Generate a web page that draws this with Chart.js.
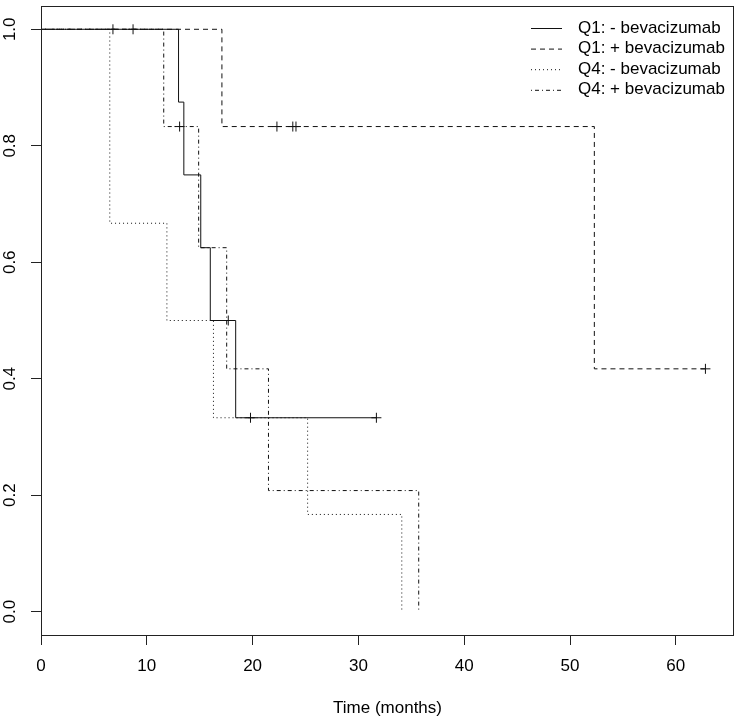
<!DOCTYPE html>
<html>
<head>
<meta charset="utf-8">
<script src="https://cdn.jsdelivr.net/npm/chart.js@4.4.1/dist/chart.umd.min.js"></script>
<style>
  body { margin: 0; background: #fff; overflow: hidden; }
  canvas { display: block; }
</style>
</head>
<body>
<canvas id="kmChart" width="740" height="721"></canvas>
<script>
  // tick labels
  const xTicks = [0, 10, 20, 30, 40, 50, 60];
  const yTicks = [0, 0.2, 0.4, 0.6, 0.8, 1.0];

  // survival steps (time in months, survival)
  const q1NoBevTime = [0, 13.0, 13.5, 15.1, 16.0, 18.4, 31.7];
  const q1NoBevSurv = [1, 0.875, 0.75, 0.625, 0.5, 0.333, 0.333];
  const q1BevTime = [0, 17.1, 52.3, 62.8];
  const q1BevSurv = [1, 0.833, 0.417, 0.417];
  const q4NoBevTime = [0, 6.5, 11.9, 16.3, 25.2, 34.1];
  const q4NoBevSurv = [1, 0.667, 0.5, 0.333, 0.167, 0];
  const q4BevTime = [0, 11.6, 14.9, 17.55, 21.5, 35.7];
  const q4BevSurv = [1, 0.833, 0.625, 0.417, 0.208, 0];

  // censored observations (the + marks)
  const censTime = [6.8, 8.7, 17.7, 19.8, 31.7, 22.3, 23.8, 24.1, 62.8, 13.1];
  const censSurv = [1, 1, 0.5, 0.333, 0.333, 0.833, 0.833, 0.833, 0.417, 0.833];

  const labels = ['Q1: - bevacizumab', 'Q1: + bevacizumab', 'Q4: - bevacizumab', 'Q4: + bevacizumab'];

  function pts(t, s) {
    return t.map((v, i) => ({ x: v, y: s[i] }));
  }

  function stepLine(label, t, s, dash) {
    return {
      type: 'line',
      label: label,
      data: pts(t, s),
      stepped: true,
      borderColor: '#111',
      borderWidth: 1,
      borderDash: dash,
      pointRadius: 0,
      fill: false
    };
  }

  const FONT = "'Liberation Sans', Arial, sans-serif";

  // scales should not push the plot area around
  function noPad(s) {
    s.paddingTop = 0; s.paddingBottom = 0; s.paddingLeft = 0; s.paddingRight = 0;
  }

  // box round the plot + legend inside it (R style)
  const boxAndLegend = {
    id: 'boxAndLegend',
    afterDraw(chart) {
      const ctx = chart.ctx;
      const a = chart.chartArea;
      ctx.save();
      ctx.strokeStyle = '#222';
      ctx.lineWidth = 1;
      ctx.setLineDash([]);
      ctx.strokeRect(a.left + 0.5, a.top + 0.5, a.right - a.left - 1, a.bottom - a.top);

      ctx.font = '17px ' + FONT;
      ctx.fillStyle = '#000';
      ctx.textBaseline = 'middle';
      ctx.textAlign = 'left';
      for (let i = 0; i < 4; i++) {
        const ds = chart.data.datasets[i];
        const y = a.top + 22 + i * 20.6;
        ctx.beginPath();
        ctx.strokeStyle = '#111';
        ctx.setLineDash(ds.borderDash || []);
        ctx.moveTo(a.right - 203, y + 0.5);
        ctx.lineTo(a.right - 172, y + 0.5);
        ctx.stroke();
        ctx.setLineDash([]);
        ctx.fillText(ds.label, a.right - 156, y);
      }
      ctx.restore();
    }
  };

  const config = {
    data: {
      datasets: [
        stepLine(labels[0], q1NoBevTime, q1NoBevSurv, []),
        stepLine(labels[1], q1BevTime, q1BevSurv, [5, 4]),
        stepLine(labels[2], q4NoBevTime, q4NoBevSurv, [1, 3]),
        stepLine(labels[3], q4BevTime, q4BevSurv, [1, 3, 4, 3]),
        {
          type: 'scatter',
          label: 'censored',
          data: pts(censTime, censSurv),
          pointStyle: 'cross',
          pointRadius: 5,
          borderColor: '#111',
          borderWidth: 1,
          showLine: false
        }
      ]
    },
    options: {
      responsive: false,
      animation: false,
      devicePixelRatio: 1,
      layout: { padding: { top: 3, right: 0, left: 0, bottom: 0 } },
      plugins: {
        legend: { display: false },
        tooltip: { enabled: false }
      },
      scales: {
        x: {
          type: 'linear',
          min: 0,
          max: 65.5,
          afterBuildTicks: (s) => { s.ticks = xTicks.map(v => ({ value: v })); },
          afterFit: (s) => { s.height = 86; noPad(s); },
          grid: { drawOnChartArea: false, drawTicks: true, tickLength: 10, tickColor: '#222' },
          border: { display: false },
          ticks: { color: '#000', font: { family: FONT, size: 17 }, padding: 11, maxRotation: 0 },
          title: { display: true, text: 'Time (months)', color: '#000', font: { family: FONT, size: 17 }, padding: { top: 0, bottom: 2 } }
        },
        y: {
          type: 'linear',
          min: -0.04,
          max: 1.04,
          afterBuildTicks: (s) => { s.ticks = yTicks.map(v => ({ value: v })); },
          afterFit: (s) => { s.width = 41; noPad(s); },
          grid: { drawOnChartArea: false, drawTicks: true, tickLength: 10, tickColor: '#222' },
          border: { display: false },
          ticks: {
            color: '#000',
            font: { family: FONT, size: 17 },
            minRotation: 90,
            maxRotation: 90,
            crossAlign: 'center',
            padding: 9,
            callback: (v) => Number(v).toFixed(1)
          }
        }
      }
    },
    plugins: [boxAndLegend]
  };

  const myChart = new Chart(document.getElementById('kmChart'), config);
</script>
</body>
</html>
